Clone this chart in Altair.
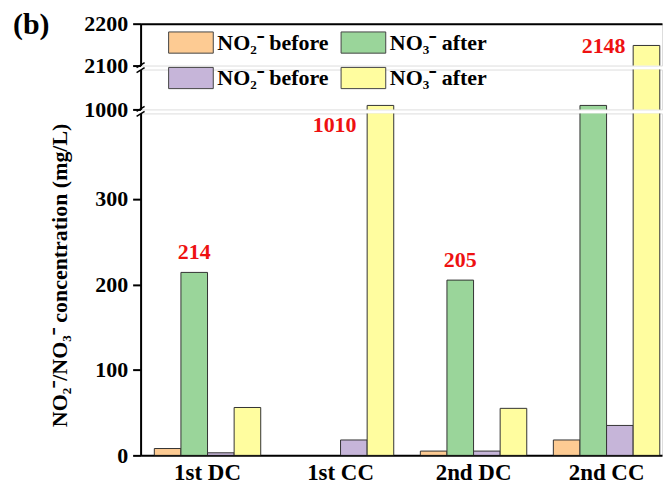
import altair as alt
import pandas as pd

categories = ["1st DC", "1st CC", "2nd DC", "2nd CC"]
series_keys = ["a", "b", "c", "d"]
series_names = ["NO₂⁻ before", "NO₃⁻ after", "NO₂⁻ before", "NO₃⁻ after"]
colors = ["#FDCB93", "#9AD59A", "#C6B5D9", "#FFFD9F"]
orange_vals = [8, None, 5, 18]
green_vals = [214, None, 205, 1010]
purple_vals = [3, 18, 5, 35]
yellow_vals = [56, 1010, 55, 2148]

rows = []
for key, vals in zip(series_keys, [orange_vals, green_vals, purple_vals, yellow_vals]):
    for cat, v in zip(categories, vals):
        if v is not None:
            rows.append({"cat": cat, "series": key, "value": v})
df = pd.DataFrame(rows)

FONT = "Liberation Serif"
label_map = "{" + ",".join(f"'{k}':'{n}'" for k, n in zip(series_keys, series_names)) + "}"

x_scale = alt.Scale(domain=categories, paddingInner=0.2, paddingOuter=0.06, align=0.86)
xo_scale = alt.Scale(domain=series_keys, paddingInner=0, paddingOuter=0)
color_enc = alt.Color(
    "series:N",
    scale=alt.Scale(domain=series_keys, range=colors),
    legend=alt.Legend(
        orient="none", legendX=36, legendY=4, columns=2, direction="horizontal", title=None,
        symbolType="M-1.6,-0.76H1.6V0.76H-1.6Z", symbolSize=784,
        symbolStrokeColor="#444444", symbolStrokeWidth=1, symbolOpacity=1,
        labelFont=FONT, labelFontSize=22, labelFontWeight="bold", labelColor="black",
        labelExpr=label_map + "[datum.label]", labelLimit=300, labelOffset=12,
        columnPadding=10, rowPadding=8, padding=0,
    ),
)

W = 523


def bars(data, domain, y_axis, x_axis):
    return alt.Chart(data).mark_bar(stroke="#333333", strokeWidth=1, clip=True).encode(
        x=alt.X("cat:N", scale=x_scale, axis=x_axis, sort=categories),
        xOffset=alt.XOffset("series:N", scale=xo_scale),
        y=alt.Y("value:Q", scale=alt.Scale(domain=domain, nice=False, zero=False), axis=y_axis),
        y2=alt.datum(0),
        color=color_enc,
    )


def value_text(data, **kw):
    return alt.Chart(data).mark_text(
        color="#EE1111", font=FONT, fontSize=22, fontWeight="bold", **kw
    ).encode(
        x=alt.X("cat:N", scale=x_scale, sort=categories),
        xOffset=alt.XOffset("series:N", scale=xo_scale),
        y=alt.Y("value:Q"),
        text=alt.Text("value:Q", format="d"),
    )


def break_mark(y_low, y_high):
    # small slanted stroke crossing the broken axis
    return alt.Chart(pd.DataFrame({"k": [0]})).mark_rule(
        color="black", strokeWidth=1.5
    ).encode(x=alt.value(-4), x2=alt.value(4), y=alt.value(y_low), y2=alt.value(y_high))


y_common = dict(
    labelFont=FONT, labelFontSize=22, labelFontWeight="bold", labelColor="black",
    domainColor="black", domainWidth=2, tickColor="black", tickWidth=2, tickSize=8,
    labelPadding=5, grid=False, format="d",
)

# upper panel 2100-2200
up_df = df[df.value >= 2100]
up_bars = bars(up_df, [2100, 2200],
               alt.Axis(values=[2100, 2200], title=None, **y_common),
               alt.Axis(orient="top", labels=False, ticks=False, title=None,
                        domainColor="black", domainWidth=2))
up_text = value_text(up_df, align="right", baseline="middle", dx=-21, dy=1)
panel_label = alt.Chart(pd.DataFrame({"t": ["(b)"]})).mark_text(
    align="left", baseline="top", font=FONT, fontSize=30, fontWeight="bold", color="black"
).encode(x=alt.value(-128), y=alt.value(-14), text="t:N")
upper = alt.layer(up_bars, up_text, panel_label, break_mark(44, 39)).properties(width=W, height=42)

# middle panel 1000-1100
mid_df = df[(df.value >= 1000)]
mid_bars = bars(mid_df, [1000, 1100],
                alt.Axis(values=[1000], title=None, **y_common), None)
mid_text = value_text(mid_df[(mid_df.series == "d") & (mid_df.value < 1100)],
                      align="right", baseline="middle", dx=-24, dy=20)
middle = alt.layer(mid_bars, mid_text, break_mark(3, -2), break_mark(42, 37)).properties(width=W, height=40)

# lower panel 0-400
low_bars = bars(df, [0, 400],
                alt.Axis(values=[0, 100, 200, 300],
                         title="NO₂⁻/NO₃⁻ concentration (mg/L)",
                         titleFont=FONT, titleFontSize=22, titleFontWeight="bold", titleColor="black",
                         titleAngle=270, titleAlign="center", titleBaseline="middle",
                         titleX=-81, titleY=162, **y_common),
                alt.Axis(title=None, ticks=False, labelAngle=0, labelFont=FONT, labelFontSize=23,
                         labelFontWeight="bold", labelColor="black", labelPadding=6,
                         domainColor="black", domainWidth=2))
low_text = value_text(df[(df.series == "b") & (df.value < 400)],
                      align="center", baseline="bottom", dy=-8)
lower = alt.layer(low_bars, low_text, break_mark(3, -2)).properties(width=W, height=343)

chart = alt.vconcat(upper, middle, lower, spacing=4, bounds="flush").resolve_scale(
    y="independent", x="shared", xOffset="shared", color="shared"
).properties(
    padding={"left": 4, "top": 0, "right": 0, "bottom": 0}
).configure_view(stroke=None).configure(background="white")

chart.save("out.html", embed_options={"renderer": "svg", "actions": False})
